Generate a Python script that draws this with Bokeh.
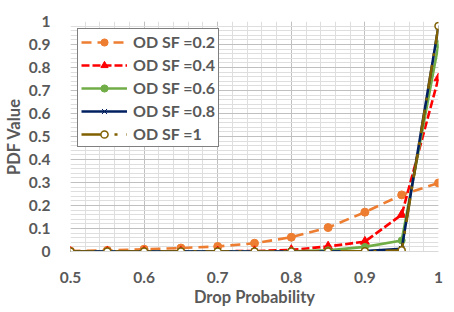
from bokeh.plotting import figure
from bokeh.models import FixedTicker, SingleIntervalTicker, Legend, LegendItem, Range1d
from bokeh.embed import file_html
from bokeh.resources import INLINE

x_vals = [0.5, 0.55, 0.6, 0.65, 0.7, 0.75, 0.8, 0.85, 0.9, 0.95, 1.0]
sf02 = [0.002, 0.005, 0.010, 0.015, 0.022, 0.036, 0.062, 0.104, 0.171, 0.246, 0.298]
sf04 = [0.0, 0.0, 0.0, 0.0, 0.001, 0.002, 0.007, 0.022, 0.043, 0.160, 0.754]
sf06 = [0.0, 0.0, 0.0, 0.0, 0.0, 0.0, 0.001, 0.005, 0.020, 0.048, 0.901]
sf08 = [0.0, 0.0, 0.0, 0.0, 0.0, 0.0, 0.0, 0.0, 0.002, 0.012, 0.980]
sf10 = [0.0, 0.0, 0.0, 0.0, 0.0, 0.0, 0.0, 0.0, 0.001, 0.005, 0.980]
series_labels = ["OD SF =0.2", "OD SF =0.4", "OD SF =0.6", "OD SF =0.8", "OD SF =1"]

x_ticks = [0.5, 0.6, 0.7, 0.8, 0.9, 1.0]
x_tick_labels = ["0.5", "0.6", "0.7", "0.8", "0.9", "1"]
y_ticks = [0.0, 0.1, 0.2, 0.3, 0.4, 0.5, 0.6, 0.7, 0.8, 0.9, 1.0]
y_tick_labels = ["0", "0.1", "0.2", "0.3", "0.4", "0.5", "0.6", "0.7", "0.8", "0.9", "1"]

FONT = "Lato"
GRAY = "#595959"

p = figure(frame_width=368, frame_height=230, output_backend="svg", toolbar_location=None,
           x_range=Range1d(0.5, 1.0), y_range=Range1d(0, 1.0),
           min_border_left=64, min_border_right=6, min_border_top=21, min_border_bottom=52)
p.outline_line_color = None

for ax, ticks, labels in ((p.xaxis[0], x_ticks, x_tick_labels),
                          (p.yaxis[0], y_ticks, y_tick_labels)):
    ax.ticker = FixedTicker(ticks=ticks)
    ax.major_label_overrides = {t: l for t, l in zip(ticks, labels)}
    ax.major_tick_line_color = None
    ax.minor_tick_line_color = None
    ax.major_label_text_font = FONT
    ax.major_label_text_font_style = "bold"
    ax.major_label_text_font_size = "15.5px"
    ax.major_label_text_color = GRAY
    ax.axis_label_text_font = FONT
    ax.axis_label_text_font_style = "bold"
    ax.axis_label_text_font_size = "16.5px"
    ax.axis_label_text_color = GRAY

p.xaxis.axis_label = "Drop Probability"
p.yaxis.axis_label = "PDF Value"
p.xaxis.axis_line_color = "#d9d9d9"
p.yaxis.axis_line_color = None
p.xaxis.major_label_standoff = 14
p.xaxis.axis_label_standoff = 1
p.yaxis.major_label_standoff = 14
p.yaxis.axis_label_standoff = 2

p.xgrid.ticker = SingleIntervalTicker(interval=0.1, num_minor_ticks=5)
p.ygrid.ticker = SingleIntervalTicker(interval=0.1, num_minor_ticks=5)
p.grid.level = "image"
p.grid.grid_line_color = "#c0c0c0"
p.grid.grid_line_width = 1
p.grid.minor_grid_line_color = "#dedede"
p.grid.minor_grid_line_width = 1

W = 2.6
items = []
l = p.line(x_vals, sf02, line_color="#ED7D31", line_width=W, line_dash="10 6")
s = p.scatter(x_vals, sf02, marker="circle", size=8, fill_color="#ED7D31", line_color="#ED7D31")
items.append(LegendItem(label=series_labels[0], renderers=[l, s]))

l = p.line(x_vals, sf04, line_color="#FF0000", line_width=W, line_dash="8 3")
s = p.scatter(x_vals, sf04, marker="triangle", size=9, fill_color="#FF0000", line_color="#FF0000")
items.append(LegendItem(label=series_labels[1], renderers=[l, s]))

l = p.line(x_vals, sf06, line_color="#70AD47", line_width=W)
s = p.scatter(x_vals, sf06, marker="circle", size=7, fill_color="#70AD47", line_color="#70AD47")
items.append(LegendItem(label=series_labels[2], renderers=[l, s]))

l = p.line(x_vals, sf08, line_color="#002060", line_width=W)
s = p.scatter(x_vals, sf08, marker="x", size=8, line_color="#002060", line_width=1)
items.append(LegendItem(label=series_labels[3], renderers=[l, s]))

l = p.line(x_vals, sf10, line_color="#806000", line_width=W, line_dash="24 9 3 9")
s = p.scatter(x_vals, sf10, marker="circle", size=7, fill_color="white", line_color="#806000", line_width=1.5)
items.append(LegendItem(label=series_labels[4], renderers=[l, s]))

legend = Legend(items=items, location="top_left")
legend.border_line_color = "black"
legend.border_line_width = 1.5
legend.background_fill_color = "white"
legend.background_fill_alpha = 1
legend.label_text_font = FONT
legend.label_text_font_style = "bold"
legend.label_text_font_size = "16px"
legend.label_text_color = GRAY
legend.glyph_width = 46
legend.glyph_height = 18
legend.label_height = 18
legend.label_standoff = 6
legend.spacing = 4
legend.padding = 3
legend.margin = 7
p.add_layout(legend, "center")

open("out.html", "w").write(file_html(p, INLINE))
